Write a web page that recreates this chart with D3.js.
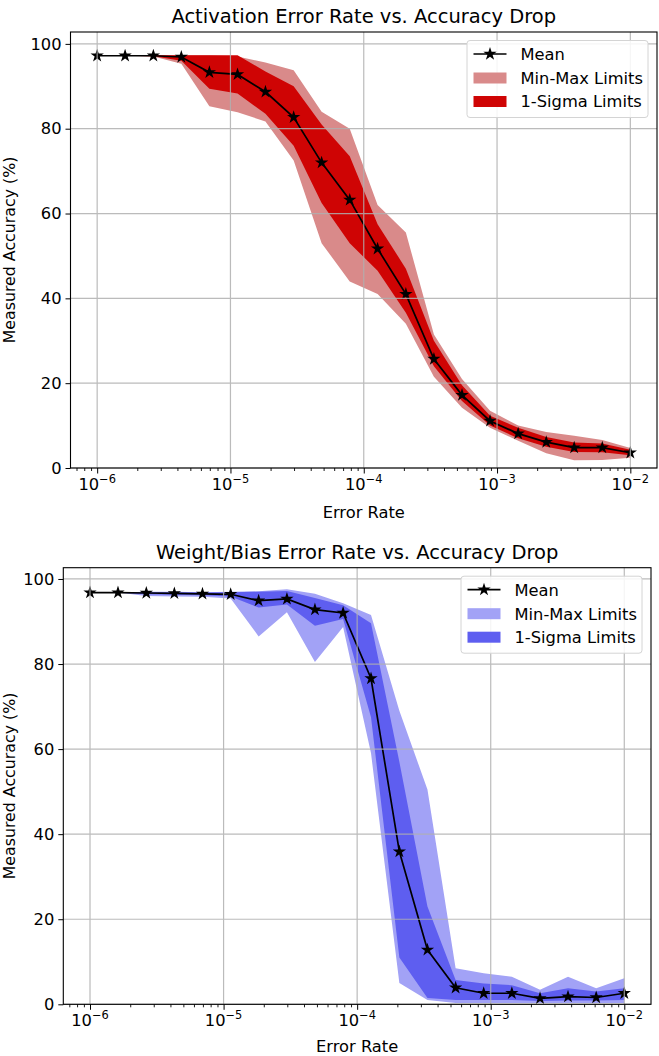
<!DOCTYPE html>
<html>
<head>
<meta charset="utf-8">
<script src="https://cdn.jsdelivr.net/npm/d3@7"></script>
<style>
  html, body { margin: 0; padding: 0; background: #ffffff; }
  svg { display: block; font-family: "DejaVu Sans", sans-serif; }
</style>
</head>
<body>
<svg id="chart" width="659" height="1056"></svg>
<script>
// ---------------- DATA ----------------
const errorRates = [1.00e-6, 1.62e-6, 2.64e-6, 4.28e-6, 6.95e-6, 1.13e-5, 1.83e-5, 2.98e-5, 4.83e-5, 7.85e-5,
                    1.27e-4, 2.07e-4, 3.36e-4, 5.46e-4, 8.86e-4, 1.44e-3, 2.34e-3, 3.79e-3, 6.16e-3, 1.00e-2];

// Activation errors
const actMean    = [97.2, 97.2, 97.2, 96.9, 93.3, 92.8, 88.7, 82.7, 72.0, 63.2, 51.7, 41.0, 25.7, 17.2, 11.1, 8.1, 6.1, 4.8, 4.8, 3.6];
const actSigmaLo = [97.2, 97.2, 97.1, 96.0, 89.4, 88.3, 83.5, 76.0, 62.5, 53.0, 46.5, 36.6, 24.0, 15.8, 10.0, 7.0, 5.0, 3.8, 3.7, 3.0];
const actSigmaHi = [97.2, 97.2, 97.3, 97.3, 97.3, 97.3, 93.5, 90.0, 81.0, 73.5, 57.5, 47.0, 30.0, 19.5, 12.3, 9.5, 7.3, 6.0, 5.8, 4.3];
const actMin     = [97.2, 97.2, 97.0, 95.3, 85.3, 83.9, 81.7, 72.5, 53.0, 44.0, 41.0, 34.0, 21.5, 14.2, 9.5, 6.4, 3.5, 1.8, 1.9, 2.4];
const actMax     = [97.2, 97.2, 97.3, 97.3, 97.3, 97.0, 95.6, 93.8, 84.0, 80.0, 62.0, 55.5, 31.5, 21.0, 13.5, 10.0, 8.5, 7.6, 6.6, 4.7];

// Weight / bias errors
const wbMean    = [96.8, 96.8, 96.7, 96.6, 96.5, 96.4, 94.9, 95.3, 92.8, 92.0, 76.6, 35.9, 12.8, 3.9, 2.6, 2.6, 1.4, 1.8, 1.6, 2.6];
const wbSigmaLo = [96.8, 96.8, 96.4, 96.3, 96.2, 95.9, 93.3, 94.0, 89.0, 90.6, 67.5, 11.0, 1.5, 1.0, 1.0, 1.0, 0.8, 0.9, 0.9, 1.0];
const wbSigmaHi = [96.8, 96.8, 96.9, 96.9, 96.8, 96.9, 97.0, 97.2, 95.5, 93.8, 89.6, 57.0, 23.0, 5.7, 4.9, 4.5, 2.6, 3.8, 3.0, 3.8];
const wbMin     = [96.8, 96.8, 96.0, 95.9, 95.8, 95.4, 86.5, 92.2, 80.5, 88.7, 59.0, 5.0, 1.0, 0.3, 0.3, 0.3, 0.3, 0.3, 0.3, 0.3];
const wbMax     = [96.8, 96.8, 97.0, 97.0, 96.9, 97.0, 97.1, 97.6, 96.5, 94.3, 91.5, 69.0, 50.5, 8.5, 7.3, 6.5, 3.4, 6.5, 3.8, 6.1];

const xTickExponents = [-6, -5, -4, -3, -2];
const yTicks = [0, 20, 40, 60, 80, 100];
const legendLabels = ["Mean", "Min-Max Limits", "1-Sigma Limits"];
const titles = ["Activation Error Rate vs. Accuracy Drop", "Weight/Bias Error Rate vs. Accuracy Drop"];
const xLabel = "Error Rate";
const yLabel = "Measured Accuracy (%)";

// ---------------- DRAW ----------------
const svg = d3.select("#chart");
svg.append("rect").attr("width", 659).attr("height", 1056).attr("fill", "#ffffff");

const BASE = 16.3;

function drawPanel(cfg) {
  const g = svg.append("g");
  const x = d3.scaleLog().domain([Math.pow(10, -6.2), Math.pow(10, -1.8)]).range([cfg.left, cfg.right]);
  const y = d3.scaleLinear().domain([0, cfg.yMax]).range([cfg.bottom, cfg.top]);

  const rows = errorRates.map((r, i) => ({
    x: r, mean: cfg.mean[i], sLo: cfg.sLo[i], sHi: cfg.sHi[i], mn: cfg.mn[i], mx: cfg.mx[i]
  }));

  const clipId = "clip" + cfg.id;
  g.append("clipPath").attr("id", clipId).append("rect")
    .attr("x", cfg.left).attr("y", cfg.top)
    .attr("width", cfg.right - cfg.left).attr("height", cfg.bottom - cfg.top);

  const plot = g.append("g").attr("clip-path", `url(#${clipId})`);

  // min-max band
  plot.append("path").datum(rows)
    .attr("d", d3.area().x(d => x(d.x)).y0(d => y(d.mn)).y1(d => y(d.mx)))
    .attr("fill", cfg.lightColor);
  // sigma band
  plot.append("path").datum(rows)
    .attr("d", d3.area().x(d => x(d.x)).y0(d => y(d.sLo)).y1(d => y(d.sHi)))
    .attr("fill", cfg.darkColor);

  // grid
  const grid = g.append("g").attr("stroke", "#b0b0b0").attr("stroke-width", 1.2).attr("opacity", 0.85);
  xTickExponents.forEach(e => {
    const xx = x(Math.pow(10, e));
    grid.append("line").attr("x1", xx).attr("x2", xx).attr("y1", cfg.top).attr("y2", cfg.bottom);
  });
  yTicks.forEach(t => {
    const yy = y(t);
    grid.append("line").attr("x1", cfg.left).attr("x2", cfg.right).attr("y1", yy).attr("y2", yy);
  });

  // mean line
  plot.append("path").datum(rows)
    .attr("d", d3.line().x(d => x(d.x)).y(d => y(d.mean)))
    .attr("fill", "none").attr("stroke", "#000").attr("stroke-width", 1.7);
  const star = d3.symbol().type(d3.symbolStar).size(55);
  plot.selectAll(".mk").data(rows).enter().append("path")
    .attr("d", star)
    .attr("transform", d => `translate(${x(d.x)},${y(d.mean)})`)
    .attr("fill", "#000");

  // axes via d3 axis generators
  const yAxis = d3.axisLeft(y).tickValues(yTicks).tickSize(5).tickPadding(4).tickFormat(d3.format("d"));
  const yg = g.append("g").attr("transform", `translate(${cfg.left},0)`).call(yAxis);
  yg.select(".domain").remove();
  yg.selectAll("text").attr("font-size", BASE).attr("fill", "#000").attr("font-family", "DejaVu Sans");
  yg.selectAll("line").attr("stroke", "#000").attr("stroke-width", 1);

  const xAxisMajor = d3.axisBottom(x).tickValues(xTickExponents.map(e => Math.pow(10, e))).tickSize(5.5).tickFormat("");
  const xg = g.append("g").attr("transform", `translate(0,${cfg.bottom})`).call(xAxisMajor);
  xg.select(".domain").remove();
  xg.selectAll("line").attr("stroke", "#000").attr("stroke-width", 1);

  const minorVals = [];
  for (let e = -7; e <= -2; e++) {
    for (let k = 2; k <= 9; k++) {
      const v = k * Math.pow(10, e);
      if (v > x.domain()[0] && v < x.domain()[1]) minorVals.push(v);
    }
  }
  const xAxisMinor = d3.axisBottom(x).tickValues(minorVals).tickSize(3).tickFormat("");
  const xm = g.append("g").attr("transform", `translate(0,${cfg.bottom})`).call(xAxisMinor);
  xm.select(".domain").remove();
  xm.selectAll("line").attr("stroke", "#000").attr("stroke-width", 0.9);

  // x tick labels with superscript exponents
  xTickExponents.forEach(e => {
    const t = g.append("text")
      .attr("x", x(Math.pow(10, e)))
      .attr("y", cfg.bottom + 22)
      .attr("text-anchor", "middle")
      .attr("font-size", BASE)
      .attr("fill", "#000");
    t.append("tspan").text("10");
    t.append("tspan").attr("dy", -7).attr("font-size", BASE * 0.7).text("\u2212" + Math.abs(e));
  });

  // frame
  g.append("rect")
    .attr("x", cfg.left).attr("y", cfg.top)
    .attr("width", cfg.right - cfg.left).attr("height", cfg.bottom - cfg.top)
    .attr("fill", "none").attr("stroke", "#000").attr("stroke-width", 1.1);

  // title & labels
  const cx = (cfg.left + cfg.right) / 2;
  g.append("text").attr("x", cx).attr("y", cfg.titleY)
    .attr("text-anchor", "middle").attr("font-size", 19.5).attr("fill", "#000").text(cfg.title);
  g.append("text").attr("x", cx).attr("y", cfg.xLabelY)
    .attr("text-anchor", "middle").attr("font-size", BASE).attr("fill", "#000").text(xLabel);
  g.append("text")
    .attr("transform", `translate(14.5,${(cfg.top + cfg.bottom) / 2}) rotate(-90)`)
    .attr("text-anchor", "middle").attr("font-size", 15.8).attr("fill", "#000").text(yLabel);

  // legend
  const lw = 181, lh = 77;
  const lx = cfg.right - 9 - lw, ly = cfg.top + 8.5;
  const lg = g.append("g");
  lg.append("rect").attr("x", lx).attr("y", ly).attr("width", lw).attr("height", lh)
    .attr("rx", 3).attr("fill", "#ffffff").attr("fill-opacity", 0.85)
    .attr("stroke", "#d4d4d4").attr("stroke-width", 1);
  const hx0 = lx + 6.5, hx1 = lx + 39.5, tx = lx + 53.5;
  const rowY = [ly + 13.5, ly + 37.5, ly + 61];
  lg.append("line").attr("x1", hx0).attr("x2", hx1).attr("y1", rowY[0]).attr("y2", rowY[0])
    .attr("stroke", "#000").attr("stroke-width", 1.7);
  lg.append("path").attr("d", star).attr("transform", `translate(${(hx0 + hx1) / 2},${rowY[0]})`).attr("fill", "#000");
  lg.append("rect").attr("x", hx0).attr("y", rowY[1] - 5.5).attr("width", hx1 - hx0).attr("height", 11).attr("fill", cfg.lightColor);
  lg.append("rect").attr("x", hx0).attr("y", rowY[2] - 5.5).attr("width", hx1 - hx0).attr("height", 11).attr("fill", cfg.darkColor);
  legendLabels.forEach((lab, i) => {
    lg.append("text").attr("x", tx).attr("y", rowY[i]).attr("dy", "0.36em")
      .attr("font-size", BASE).attr("fill", "#000").text(lab);
  });
}

drawPanel({
  id: "a", title: titles[0], left: 70.5, right: 657, top: 32, bottom: 468, yMax: 102.8,
  titleY: 23, xLabelY: 518,
  mean: actMean, sLo: actSigmaLo, sHi: actSigmaHi, mn: actMin, mx: actMax,
  lightColor: "#d98a8a", darkColor: "#cf0404"
});
drawPanel({
  id: "b", title: titles[1], left: 63.3, right: 651, top: 567.7, bottom: 1004.3, yMax: 102.65,
  titleY: 559, xLabelY: 1052,
  mean: wbMean, sLo: wbSigmaLo, sHi: wbSigmaHi, mn: wbMin, mx: wbMax,
  lightColor: "#a2a2f6", darkColor: "#5e5ef0"
});
</script>
</body>
</html>
